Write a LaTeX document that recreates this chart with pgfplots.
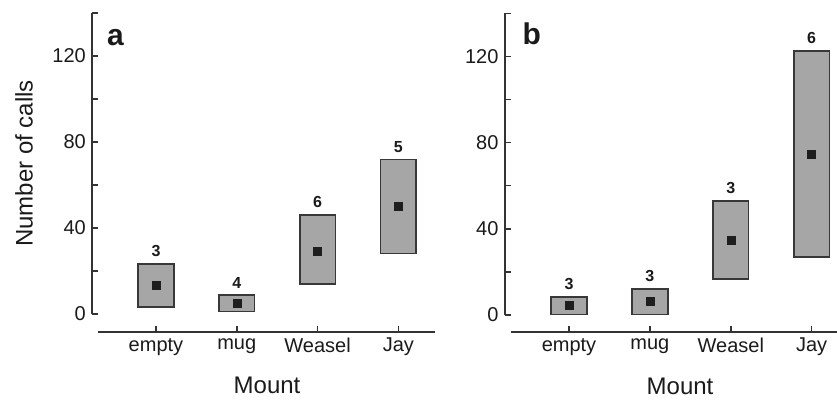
\documentclass[border=0pt]{standalone}
\usepackage{fontspec}
\setmainfont{Liberation Sans}
\usepackage{pgfplots}
\pgfplotsset{compat=1.18}
\definecolor{boxfill}{HTML}{A6A6A6}
\definecolor{boxdraw}{HTML}{383838}
\definecolor{axc}{HTML}{333333}
\definecolor{meanc}{HTML}{1E1E1E}
\definecolor{txt}{HTML}{1A1A1A}
\pgfplotsset{
  panel/.style={
    scale only axis, anchor=south west,
    ymin=0, ymax=140,
    axis x line*=bottom, axis y line*=left,
    axis line style={line width=1.8pt, color=axc},
    x axis line style={shorten <=6pt},
    tick align=inside,
    major tick length=6pt, minor tick length=6pt,
    every tick/.style={line width=1.5pt, color=axc},
    ytick={0,40,80,120}, minor ytick={20,60,100,140},
    xtick={0,1,2,3}, xticklabels={empty,mug,Weasel,Jay},
    ticklabel style={font=\fontsize{20}{24}\selectfont, text=txt},
    /pgf/number format/assume math mode=true,
    yticklabel style={xshift=-3pt},
    xticklabel style={yshift=-3pt},
    clip=false,
  },
  bx/.style={fill=boxfill, draw=boxdraw, line width=1.7pt, line join=miter},
  meanmk/.style={only marks, mark=square*, mark size=4pt,
    mark options={fill=meanc, draw=meanc, line width=0.5pt}},
  cnt/.style={draw=none, nodes near coords, point meta=explicit symbolic,
    nodes near coords style={anchor=south, inner sep=0pt, yshift=7pt,
      font=\bfseries\fontsize{16}{19}\selectfont, text=txt}},
}
% columns: x position, box bottom, box top, mean, n
\pgfplotstableread{
x b t m n
0 3.4 23.1 13.5 3
1 1.2 8.7 4.8 4
2 13.8 45.9 29.4 6
3 28.2 71.9 50.1 5
}\dataA
\pgfplotstableread{
x b t m n
0 0.3 8.5 4.3 3
1 0.3 12.0 6.2 3
2 16.6 52.9 34.5 3
3 26.8 122.6 74.7 6
}\dataB
\begin{document}
\begin{tikzpicture}
\useasboundingbox (0,0) rectangle (837pt,400pt);
% ---------- panel a ----------
\begin{axis}[panel, at={(92.3pt,86pt)}, width=342.7pt, height=301pt,
  xmin=-0.788, xmax=3.453, axis x line shift=17.7pt]
\addplot[bx] coordinates {(-0.22,3.4) (0.22,3.4) (0.22,23.1) (-0.22,23.1)} -- cycle;
\addplot[bx] coordinates {(0.78,1.2) (1.22,1.2) (1.22,8.7) (0.78,8.7)} -- cycle;
\addplot[bx] coordinates {(1.78,13.8) (2.22,13.8) (2.22,45.9) (1.78,45.9)} -- cycle;
\addplot[bx] coordinates {(2.78,28.2) (3.22,28.2) (3.22,71.9) (2.78,71.9)} -- cycle;
\addplot[meanmk] table[x=x, y=m] {\dataA};
\addplot[cnt] table[x=x, y=t, meta=n] {\dataA};
\node[anchor=base west, inner sep=0pt, xshift=14.7pt, yshift=-32pt, font=\bfseries\fontsize{30}{36}\selectfont, text=txt] at (rel axis cs:0,1) {a};
\node[rotate=90, anchor=center, inner sep=0pt, font=\fontsize{24}{28}\selectfont, text=txt] at (axis description cs:-0.1993,0.5) {Number of calls};
\node[anchor=center, inner sep=0pt, font=\fontsize{24}{28}\selectfont, text=txt] at (axis description cs:0.51,-0.2375) {Mount};
\end{axis}
% ---------- panel b ----------
\begin{axis}[panel, at={(505pt,85pt)}, width=331.5pt, height=301.7pt,
  xmin=-0.791, xmax=3.307, axis x line shift=16.7pt]
\addplot[bx] coordinates {(-0.22,0.3) (0.22,0.3) (0.22,8.5) (-0.22,8.5)} -- cycle;
\addplot[bx] coordinates {(0.78,0.3) (1.22,0.3) (1.22,12.0) (0.78,12.0)} -- cycle;
\addplot[bx] coordinates {(1.78,16.6) (2.22,16.6) (2.22,52.9) (1.78,52.9)} -- cycle;
\addplot[bx] coordinates {(2.78,26.8) (3.22,26.8) (3.22,122.6) (2.78,122.6)} -- cycle;
\addplot[meanmk] table[x=x, y=m] {\dataB};
\addplot[cnt] table[x=x, y=t, meta=n] {\dataB};
\node[anchor=base west, inner sep=0pt, xshift=17.3pt, yshift=-31.3pt, font=\bfseries\fontsize{30}{36}\selectfont, text=txt] at (rel axis cs:0,1) {b};
\node[anchor=center, inner sep=0pt, font=\fontsize{24}{28}\selectfont, text=txt] at (axis description cs:0.528,-0.2353) {Mount};
\end{axis}
\end{tikzpicture}
\end{document}
